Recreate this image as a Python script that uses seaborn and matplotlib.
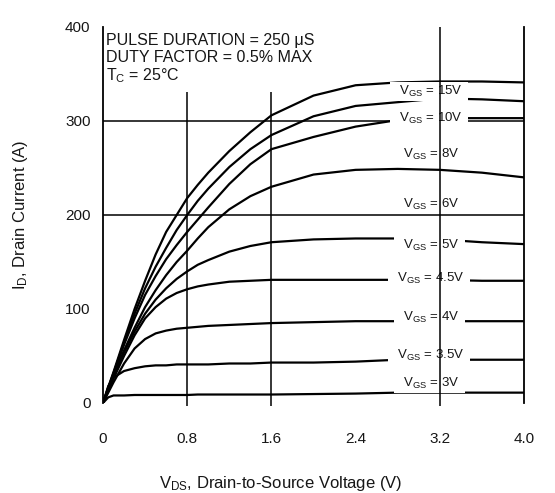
import matplotlib
matplotlib.use("Agg")
import pandas as pd
import matplotlib.pyplot as plt
import seaborn as sns

# -------------------------
# Data
# -------------------------
vds = [0, 0.05, 0.1, 0.2, 0.3, 0.4, 0.5, 0.6, 0.7, 0.8, 0.9, 1.0,
       1.2, 1.4, 1.6, 2.0, 2.4, 2.8, 3.2, 3.6, 4.0]

id_15v = [0, 17, 33, 67, 100, 130, 158, 182, 200, 218, 232, 245,
          268, 288, 306, 327, 338, 341, 342, 342, 341]
id_10v = [0, 16, 32, 64, 95, 122, 145, 165, 184, 200, 215, 228,
          251, 270, 285, 305, 316, 320, 324, 323, 321]
id_8v = [0, 16, 31, 62, 90, 115, 135, 153, 168, 182, 195, 208,
         233, 254, 270, 283, 294, 301, 303, 303, 303]
id_6v = [0, 15, 29, 56, 80, 102, 120, 136, 150, 162, 175, 187,
         206, 220, 230, 243, 248, 249, 248, 245, 240]
id_5v = [0, 14, 28, 54, 76, 95, 110, 122, 132, 140, 147, 152,
         161, 167, 171, 174, 175, 175, 174, 171, 169]
id_4v5 = [0, 13, 26, 50, 72, 90, 102, 111, 117, 121, 124, 126,
          129, 130, 131, 131, 131, 131, 131, 130, 130]
id_4v = [0, 11, 22, 42, 58, 68, 74, 77, 79, 80, 81, 82,
         83, 84, 85, 86, 87, 87, 87, 87, 87]
id_3v5 = [0, 18, 27, 34, 37, 39, 40, 40, 41, 41, 41, 41,
          42, 42, 43, 43, 44, 46, 46, 46, 46]
id_3v = [0, 6, 8, 8, 8.5, 8.5, 8.5, 8.5, 8.5, 8.5, 9, 9,
         9, 9, 9, 9.5, 10, 11, 11, 11, 11]

vgs_names = ["15V", "10V", "8V", "6V", "5V", "4.5V", "4V", "3.5V", "3V"]
curves = [id_15v, id_10v, id_8v, id_6v, id_5v, id_4v5, id_4v, id_3v5, id_3v]
label_id = [331, 303, 264, 211, 168, 133, 91, 51, 21]

x_ticks = [0, 0.8, 1.6, 2.4, 3.2, 4.0]
x_ticklabels = ["0", "0.8", "1.6", "2.4", "3.2", "4.0"]
y_ticks = [0, 100, 200, 300, 400]

df = pd.DataFrame({
    "vds": vds * len(curves),
    "id": [v for c in curves for v in c],
    "vgs": [n for n in vgs_names for _ in vds],
})

sns.set_theme(style="white")
plt.rcParams["font.family"] = ["Liberation Sans", "DejaVu Sans"]
plt.rcParams["mathtext.default"] = "regular"

TXT = "#161616"

fig = plt.figure(figsize=(5.55, 4.93), dpi=100)
ax = fig.add_axes([0.1856, 0.1826, 0.7586, 0.7627])

sns.lineplot(data=df, x="vds", y="id", hue="vgs", hue_order=vgs_names,
             palette=["black"] * len(vgs_names), linewidth=1.6,
             estimator=None, sort=False, legend=False, ax=ax, zorder=3)

ax.set_xlim(0, 4.0)
ax.set_ylim(0, 400)

# grid: only some datasheet lines
for y in [200, 300]:
    ax.axhline(y, color="black", lw=1.1, zorder=1)
for x in [0.8, 1.6]:
    ax.vlines(x, -3, 331, color="black", lw=1.1, zorder=1, clip_on=False)
ax.vlines(3.2, -3, 400, color="black", lw=1.1, zorder=5, clip_on=False)

for side in ["top", "bottom"]:
    ax.spines[side].set_visible(False)
for side in ["left", "right"]:
    ax.spines[side].set_color("black")
    ax.spines[side].set_linewidth(1.3)

ax.set_xticks(x_ticks)
ax.set_xticklabels(x_ticklabels)
ax.set_yticks(y_ticks)
ax.tick_params(axis="x", length=0, pad=21, labelsize=11, labelcolor=TXT)
ax.tick_params(axis="y", length=0, pad=9, labelsize=11, labelcolor=TXT)

ax.set_xlabel(r"V$_{DS}$, Drain-to-Source Voltage (V)", fontsize=12,
              color=TXT, va="center")
ax.xaxis.set_label_coords(0.423, -0.213)
ax.set_ylabel(r"I$_{D}$, Drain Current (A)", fontsize=12, color=TXT,
              va="center")
ax.yaxis.set_label_coords(-0.195, 0.5)

# curve labels
for name, yv in zip(vgs_names, label_id):
    ax.text(3.1, yv, r"  V$_{GS}$ = " + name + "  ", ha="center", va="center",
            fontsize=9.5, color=TXT, zorder=4,
            bbox=dict(boxstyle="square,pad=0.15", fc="white", ec="none"))

# test conditions
ax.text(0.008, 0.965, "PULSE DURATION = 250 μS", transform=ax.transAxes,
        fontsize=11.5, color=TXT, va="center", ha="left")
ax.text(0.008, 0.920, "DUTY FACTOR = 0.5% MAX", transform=ax.transAxes,
        fontsize=11.5, color=TXT, va="center", ha="left")
ax.text(0.008, 0.870, r"T$_{C}$ = 25°C", transform=ax.transAxes,
        fontsize=11.5, color=TXT, va="center", ha="left")

fig.savefig("out.png", dpi=100)
plt.close(fig)
